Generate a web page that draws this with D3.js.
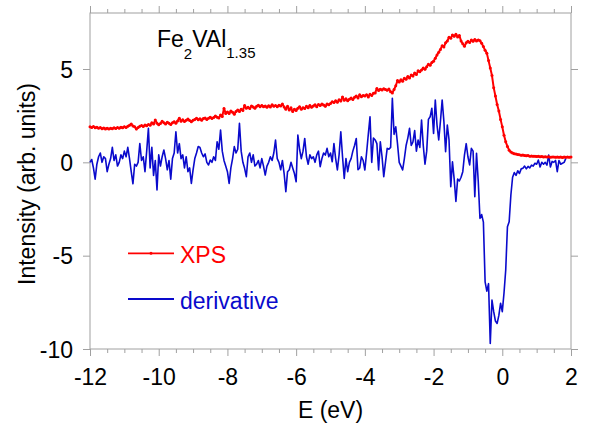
<!DOCTYPE html>
<html><head><meta charset="utf-8">
<script src="https://cdn.jsdelivr.net/npm/d3@7"></script>
<style>
body{margin:0;background:#fff}
text{font-family:Arial,"Liberation Sans",sans-serif}
</style>
</head><body>
<svg id="chart" width="589" height="426"></svg>
<script>
// ---- data ----
const energyStart = -12;      // first sample energy (eV)
const energyStep = 0.05;      // sample spacing (eV)
const xpsValues = [
1.90,1.86,1.92,1.85,1.88,1.83,1.86,1.80,1.84,1.79,1.83,1.78,1.82,1.80,1.85,1.81,1.86,1.83,1.88,1.85,
1.91,1.87,1.93,1.98,2.05,1.95,1.90,1.78,1.86,1.93,1.97,1.92,2.00,1.96,2.03,1.99,2.12,2.05,2.27,2.10,
2.02,2.08,2.20,2.12,2.05,2.15,2.09,2.03,2.12,2.18,2.10,2.22,2.36,2.20,2.28,2.19,2.25,2.32,2.24,2.18,
2.25,2.30,2.36,2.28,2.33,2.26,2.35,2.38,2.30,2.36,2.42,2.35,2.40,2.48,2.42,2.38,2.53,2.46,2.89,2.62,
2.70,2.62,2.75,2.68,2.58,2.72,2.80,2.72,2.85,2.78,3.05,2.90,2.95,2.88,3.02,2.96,2.90,3.00,3.06,2.98,
3.05,2.98,3.02,2.95,3.03,2.97,3.08,3.00,3.04,2.98,3.06,3.02,3.12,2.96,2.85,3.00,2.80,2.92,2.72,2.85,
2.78,2.90,2.98,2.85,2.93,2.88,3.00,2.92,3.05,2.95,3.02,3.08,2.98,3.10,3.04,3.12,3.07,3.00,3.13,3.08,
3.15,3.25,3.20,3.30,3.22,3.35,3.28,3.50,3.33,3.40,3.30,3.38,3.45,3.36,3.48,3.55,3.45,3.62,3.52,3.58,
3.55,3.62,3.50,3.65,3.58,3.70,3.72,3.96,3.85,3.92,3.88,3.94,3.90,3.86,3.93,3.78,3.72,3.90,4.10,4.38,
4.30,4.42,4.35,4.50,4.45,4.60,4.52,4.68,4.62,4.78,4.70,4.90,4.85,4.95,5.05,4.98,5.12,5.25,5.20,5.35,
5.42,5.58,5.75,5.90,6.05,6.25,6.18,6.40,6.50,6.70,6.65,6.82,6.75,6.86,6.72,6.80,6.50,6.35,6.22,6.40,
6.48,6.42,6.55,6.48,6.58,6.50,6.56,6.52,6.38,6.20,6.00,5.85,5.45,5.05,4.65,4.00,3.55,3.10,2.75,2.30,
1.90,1.45,1.10,0.85,0.65,0.55,0.50,0.46,0.44,0.42,0.40,0.38,0.39,0.36,0.35,0.36,0.33,0.34,0.32,0.33,
0.31,0.32,0.30,0.31,0.29,0.30,0.28,0.30,0.27,0.29,0.28,0.27,0.29,0.27,0.28,0.26,0.28,0.27,0.28,0.27,0.28
];
const derivValues = [
0.0,0.15,-0.3,-0.9,-0.1,0.3,0.5,0.0,0.3,0.2,-0.5,-0.1,0.2,0.8,0.1,0.4,-0.2,0.0,0.4,0.2,
0.6,0.3,0.8,0.2,-0.5,-1.15,-0.1,-0.2,0.0,1.0,0.1,0.3,-0.5,0.6,1.82,-0.3,0.8,-0.7,0.1,-1.48,
0.4,-0.2,0.3,0.66,0.2,-0.4,0.1,-0.9,0.2,0.5,1.64,0.5,1.0,0.2,0.4,-0.3,0.3,-0.5,-0.3,-1.13,
-0.4,0.2,0.5,0.85,0.8,0.5,0.3,0.45,0.0,-0.14,0.12,0.0,0.3,0.1,1.1,0.7,1.73,0.6,0.1,-0.2,
-0.5,-1.13,-0.3,0.2,0.84,0.5,0.7,2.09,0.6,0.0,-0.32,-0.77,0.3,0.5,0.0,0.4,-0.2,-0.1,0.1,-0.3,
0.2,-0.2,-0.68,-0.2,0.0,0.3,0.1,0.5,1.19,0.2,0.0,-0.4,0.1,-0.6,-1.57,-0.5,-0.4,0.0,-0.3,-0.6,
-1.04,1.46,0.7,0.2,0.6,1.28,0.3,-0.1,0.4,0.2,0.3,0.0,0.4,0.6,-0.23,0.2,0.5,0.39,0.75,0.3,
0.5,0.03,1.0,0.2,-0.41,0.4,1.64,0.3,-0.86,0.2,-0.5,0.0,0.2,0.6,0.9,1.28,-0.4,-0.3,0.3,0.1,
-0.41,0.5,1.5,2.44,0.0,1.3,1.2,1.0,-0.41,1.1,0.3,-0.77,0.0,0.75,0.7,0.8,3.43,1.5,1.9,1.0,
0.0,-0.2,-0.41,0.2,0.9,1.3,1.82,0.9,1.1,1.7,0.6,1.2,0.8,2.27,0.9,-0.1,0.6,2.3,2.44,2.9,
1.55,3.34,2.0,1.2,2.2,3.34,2.2,0.57,2.0,1.2,-1.3,0.03,-0.9,-2.1,-0.9,-1.0,-0.8,-0.5,0.4,1.0,
0.3,-0.14,0.75,0.6,-1.84,0.48,-1.0,-3.0,-2.8,-3.2,-6.4,-6.9,-6.5,-9.7,-7.38,-8.0,-8.5,-8.63,-8.2,-7.55,
-8.0,-7.0,-5.77,-3.45,-3.18,-1.75,-0.8,-0.55,-0.7,-0.45,-0.6,-0.35,-0.32,-0.2,-0.35,-0.22,-0.3,-0.15,-0.2,-0.05,
-0.1,0.12,-0.25,0.0,-0.1,0.0,-0.15,0.39,-0.25,0.05,0.0,0.1,-0.5,0.1,-0.1,-0.05,0.0,0.21
];
const xTickValues = [-12,-10,-8,-6,-4,-2,0,2];
const yTickValues = [-10,-5,0,5];
const seriesNames = ["XPS","derivative"];
const xLabel = "E (eV)";
const yLabel = "Intensity (arb. units)";

// ---- layout ----
const W = 589, H = 426;
const m = {l:90, r:18, t:13, b:77};
const svg = d3.select("#chart");
const x = d3.scaleLinear().domain([-12,2]).range([m.l, W-m.r]);
const y = d3.scaleLinear().domain([-10,8]).range([H-m.b, m.t]);
const axisCol = "#a0a0a0";
const fs = 23;
const fmt = d => String(d);   // plain hyphen-minus like the reference

const xps = xpsValues.map((v,i)=>({e: energyStart + i*energyStep, v}));
const der = derivValues.map((v,i)=>({e: energyStart + i*energyStep, v}));

const minorX = d3.range(-12, 2.001, 0.5).filter(t => Math.abs(t/2 - Math.round(t/2)) > 1e-6);

function styleAxis(g){
  g.select(".domain").remove();
  g.selectAll(".tick line").attr("stroke", axisCol).attr("stroke-width",1);
  g.selectAll("text").attr("fill","#000").attr("font-size",fs).attr("font-family","Arial, 'Liberation Sans', sans-serif");
}

// bottom axis
const gB = svg.append("g").attr("transform",`translate(0,${y(-10)})`)
  .call(d3.axisBottom(x).tickValues(xTickValues).tickSize(7).tickFormat(fmt));
styleAxis(gB);
gB.selectAll("text").attr("y",36).attr("dy",null);
svg.append("g").attr("transform",`translate(0,${y(-10)})`)
  .call(d3.axisBottom(x).tickValues(minorX).tickSize(4).tickFormat("")).call(styleAxis);
// top axis
svg.append("g").attr("transform",`translate(0,${y(8)})`)
  .call(d3.axisTop(x).tickValues(xTickValues).tickSize(7).tickFormat("")).call(styleAxis);
svg.append("g").attr("transform",`translate(0,${y(8)})`)
  .call(d3.axisTop(x).tickValues(minorX).tickSize(4).tickFormat("")).call(styleAxis);
// left axis
const gL = svg.append("g").attr("transform",`translate(${x(-12)},0)`)
  .call(d3.axisLeft(y).tickValues(yTickValues).tickSize(7).tickFormat(fmt));
styleAxis(gL);
gL.selectAll("text").attr("x",-17).attr("dy","0.36em");
// right axis
svg.append("g").attr("transform",`translate(${x(2)},0)`)
  .call(d3.axisRight(y).tickValues(yTickValues).tickSize(7).tickFormat("")).call(styleAxis);

// frame
svg.append("rect").attr("x",x(-12)).attr("y",y(8)).attr("width",x(2)-x(-12)).attr("height",y(-10)-y(8))
  .attr("fill","none").attr("stroke",axisCol).attr("stroke-width",1);

// lines
const line = d3.line().x(d=>x(d.e)).y(d=>y(d.v));
svg.append("path").datum(der).attr("d",line).attr("fill","none")
  .attr("stroke","#0a0acc").attr("stroke-width",1.6).attr("stroke-linejoin","round");
svg.append("path").datum(xps).attr("d",line).attr("fill","none")
  .attr("stroke","#ff0000").attr("stroke-width",2).attr("stroke-linejoin","round");
svg.append("g").selectAll("circle").data(xps).join("circle")
  .attr("cx",d=>x(d.e)).attr("cy",d=>y(d.v)).attr("r",1.5).attr("fill","#ff0000");

// title
const t = svg.append("text").attr("x",157).attr("y",47).attr("font-size",fs).attr("fill","#000");
t.append("tspan").text("Fe");
t.append("tspan").attr("font-size",15).attr("dy",12).text("2");
t.append("tspan").attr("dy",-12).text("VAl");
t.append("tspan").attr("font-size",15).attr("dy",11).text("1.35");

// legend
const legY = [253.3, 299];
const legCol = ["#ff0000", "#0a0acc"];
seriesNames.forEach((n,i)=>{
  svg.append("line").attr("x1",128).attr("x2",174).attr("y1",legY[i]).attr("y2",legY[i])
    .attr("stroke",legCol[i]).attr("stroke-width",1.8);
  if(i===0) svg.append("circle").attr("cx",151).attr("cy",legY[i]).attr("r",1.5).attr("fill",legCol[i]);
  svg.append("text").attr("x",180).attr("y",legY[i]+9.5).attr("font-size",fs).attr("fill",legCol[i]).text(n);
});

// axis labels
svg.append("text").attr("x",(x(-12)+x(2))/2).attr("y",418).attr("text-anchor","middle")
  .attr("font-size",fs).attr("fill","#000").text(xLabel);
svg.append("text").attr("transform",`translate(35,184) rotate(-90)`).attr("text-anchor","middle")
  .attr("font-size",fs).attr("fill","#000").text(yLabel);
</script>
</body></html>
